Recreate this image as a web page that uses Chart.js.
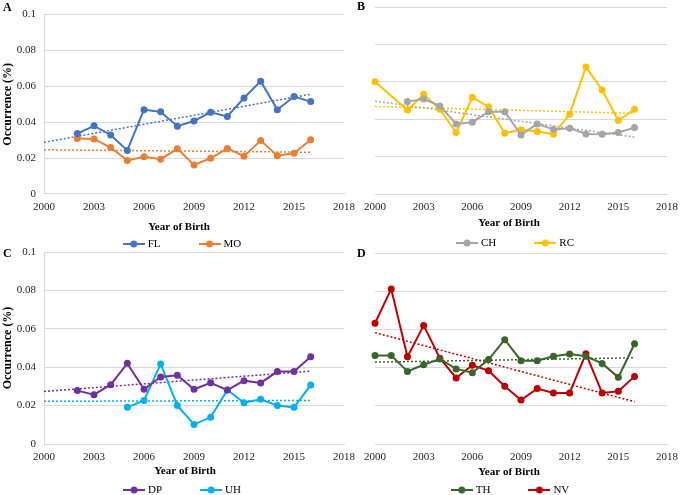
<!DOCTYPE html>
<html>
<head>
<meta charset="utf-8">
<script src="https://cdn.jsdelivr.net/npm/chart.js@4.4.0/dist/chart.umd.min.js"></script>
<style>
    body { margin: 0; background: #fff; }
    #wrap { position: relative; width: 685px; height: 495px; overflow: hidden; }
    #wrap canvas { position: absolute; left: 0; top: 0; }
    .tag { position: absolute; font: bold 12px "Liberation Serif", serif; color: #000; }
</style>
</head>
<body>
<div id="wrap">
    <canvas id="chartA" width="685" height="495"></canvas>
    <canvas id="chartB" width="685" height="495"></canvas>
    <canvas id="chartC" width="685" height="495"></canvas>
    <canvas id="chartD" width="685" height="495"></canvas>
    <div class="tag" style="left:3px;top:0px">A</div>
    <div class="tag" style="left:357px;top:-1px">B</div>
    <div class="tag" style="left:3px;top:246px">C</div>
    <div class="tag" style="left:357px;top:246px">D</div>
</div>
<script>
// Data
const years = [2000, 2001, 2002, 2003, 2004, 2005, 2006, 2007, 2008, 2009, 2010, 2011, 2012, 2013, 2014, 2015, 2016];
const xTicks = [2000, 2003, 2006, 2009, 2012, 2015, 2018];
const yTicks = [0, 0.02, 0.04, 0.06, 0.08, 0.1];

// A
const flValues = [null, null, 0.0337, 0.0380, 0.0329, 0.0243, 0.0470, 0.0458, 0.0378, 0.0407, 0.0456, 0.0432, 0.0535, 0.0629, 0.0470, 0.0543, 0.0515];
const moValues = [null, null, 0.0309, 0.0307, 0.0259, 0.0187, 0.0208, 0.0194, 0.0252, 0.0162, 0.0199, 0.0254, 0.0211, 0.0298, 0.0213, 0.0227, 0.0302];
// B
const chValues = [null, null, 0.0494, 0.0508, 0.0471, 0.0375, 0.0384, 0.0440, 0.0440, 0.0316, 0.0375, 0.0345, 0.0352, 0.0321, 0.0320, 0.0329, 0.0355];
const rcValues = [0.0600, null, 0.0449, 0.0533, 0.0453, 0.0329, 0.0517, 0.0467, 0.0325, 0.0343, 0.0334, 0.0320, 0.0426, 0.0679, 0.0556, 0.0393, 0.0453];
// C
const dpValues = [null, null, 0.0278, 0.0257, 0.0309, 0.0420, 0.0285, 0.0349, 0.0358, 0.0285, 0.0319, 0.0281, 0.0330, 0.0318, 0.0377, 0.0377, 0.0455];
const uhValues = [null, null, null, null, null, 0.0191, 0.0227, 0.0417, 0.0200, 0.0102, 0.0139, 0.0281, 0.0215, 0.0233, 0.0200, 0.0191, 0.0307];
// D
const thValues = [0.0464, 0.0464, 0.0380, 0.0415, 0.0445, 0.0393, 0.0373, 0.0442, 0.0546, 0.0436, 0.0436, 0.0459, 0.0471, 0.0459, 0.0422, 0.0349, 0.0525];
const nvValues = [0.0632, 0.0812, 0.0457, 0.0621, 0.0449, 0.0346, 0.0412, 0.0384, 0.0302, 0.0230, 0.0290, 0.0267, 0.0267, 0.0473, 0.0267, 0.0276, 0.0354];

// linear trendlines are drawn over this span
const trendFrom = 2000;
const trendTo = 2016;

const FONT = '"Liberation Serif", "Times New Roman", serif';
const GRID = '#D9D9D9';

const panels = [
    { id: 'chartA', series: [['FL', flValues, '#4472C4'], ['MO', moValues, '#ED7D31']], yLabels: true,
      plot: { l: 44, r: 344, t: 8, b: 194 }, title: [179, 227], legend: [182, 244] },
    { id: 'chartB', series: [['CH', chValues, '#A5A5A5'], ['RC', rcValues, '#FFC000']], yLabels: false,
      plot: { l: 375, r: 672, t: 7, b: 194 }, title: [509, 223], legend: [515, 243] },
    { id: 'chartC', series: [['DP', dpValues, '#7030A0'], ['UH', uhValues, '#00B0F0']], yLabels: true,
      plot: { l: 44, r: 344, t: 252, b: 444 }, title: [185, 471], legend: [182, 490] },
    { id: 'chartD', series: [['TH', thValues, '#38662A'], ['NV', nvValues, '#C00000']], yLabels: false,
      plot: { l: 375, r: 672, t: 253, b: 444 }, title: [509, 472], legend: [510, 490] }
];

// Helpers
const toPoints = (values) => years
    .map((x, i) => ({ x, y: values[i] }))
    .filter(p => p.y !== null);

const trendPoints = (values) => {
    const pts = toPoints(values);
    const n = pts.length;
    const mx = pts.reduce((s, p) => s + p.x, 0) / n;
    const my = pts.reduce((s, p) => s + p.y, 0) / n;
    let sxy = 0, sxx = 0;
    pts.forEach(p => { sxy += (p.x - mx) * (p.y - my); sxx += (p.x - mx) * (p.x - mx); });
    const slope = sxy / sxx;
    return [trendFrom, trendTo].map(x => ({ x, y: my + slope * (x - mx) }));
};

const legendIcon = (color) => {
    const c = document.createElement('canvas');
    c.width = 22; c.height = 8;
    const g = c.getContext('2d');
    g.strokeStyle = color; g.lineWidth = 2;
    g.beginPath(); g.moveTo(0, 4); g.lineTo(22, 4); g.stroke();
    g.fillStyle = color;
    g.beginPath(); g.arc(11, 4, 3.5, 0, Math.PI * 2); g.fill();
    return c;
};

// x title + line/marker legend, placed like the original figure
const panelText = {
    id: 'panelText',
    afterDraw(chart, args, opts) {
        const ctx = chart.ctx;
        ctx.save();
        ctx.fillStyle = '#000';
        ctx.textBaseline = 'middle';
        ctx.textAlign = 'center';
        ctx.font = 'bold 11px ' + FONT;
        ctx.fillText('Year of Birth', opts.title[0], opts.title[1]);

        ctx.font = '11px ' + FONT;
        ctx.textAlign = 'left';
        const items = chart.data.datasets.filter(d => !d.isTrend);
        const gap = 38;
        const widths = items.map(d => 22 + 3 + ctx.measureText(d.label).width);
        const total = widths.reduce((a, b) => a + b, 0) + gap * (items.length - 1);
        let x = opts.legend[0] - total / 2;
        const y = opts.legend[1];
        items.forEach((d, i) => {
            ctx.drawImage(legendIcon(d.borderColor), x, y - 4);
            ctx.fillStyle = '#000';
            ctx.fillText(d.label, x + 25, y + 0.5);
            x += widths[i] + gap;
        });
        ctx.restore();
    }
};

const yW = 44;
const xH = 24;

panels.forEach(p => {
    const datasets = [];
    p.series.forEach(([label, values, color]) => {
        datasets.push({
            label, data: toPoints(values),
            borderColor: color, backgroundColor: color,
            borderWidth: 2, pointRadius: 3.5, pointBorderWidth: 0,
            pointBackgroundColor: color, tension: 0, clip: false
        });
    });
    p.series.forEach(([label, values, color]) => {
        datasets.push({
            label: label + ' trend', isTrend: true, data: trendPoints(values),
            borderColor: color, borderWidth: 1.5, borderDash: [2, 2],
            pointRadius: 0, tension: 0, clip: false
        });
    });

    new Chart(document.getElementById(p.id), {
        type: 'line',
        data: { datasets },
        plugins: [panelText],
        options: {
            responsive: false,
            animation: false,
            events: [],
            layout: {
                padding: { left: p.plot.l - yW, right: 685 - p.plot.r, top: p.plot.t, bottom: 495 - p.plot.b - xH }
            },
            plugins: {
                legend: { display: false },
                tooltip: { enabled: false },
                panelText: { title: p.title, legend: p.legend }
            },
            scales: {
                x: {
                    type: 'linear', min: 2000, max: 2018,
                    afterBuildTicks: s => { s.ticks = xTicks.map(v => ({ value: v })); },
                    afterFit: s => { s.height = xH; },
                    grid: { display: false, drawTicks: false },
                    border: { display: true, color: GRID, width: 1 },
                    ticks: { padding: 7, color: '#262626', font: { family: FONT, size: 11 }, callback: v => String(v) }
                },
                y: {
                    min: 0, max: 0.1,
                    afterBuildTicks: s => { s.ticks = yTicks.map(v => ({ value: v })); },
                    afterFit: s => { s.width = yW; },
                    grid: { color: GRID, drawTicks: false },
                    border: { display: p.yLabels, color: GRID, width: 1 },
                    ticks: { display: p.yLabels, padding: 8, color: '#262626', font: { family: FONT, size: 11 }, callback: v => String(v) },
                    title: {
                        display: p.yLabels, text: 'Occurrence (%)', color: '#000',
                        font: { family: FONT, size: 12, weight: 'bold' }, padding: { top: 1, bottom: 0 }
                    }
                }
            }
        }
    });
});
</script>
</body>
</html>
